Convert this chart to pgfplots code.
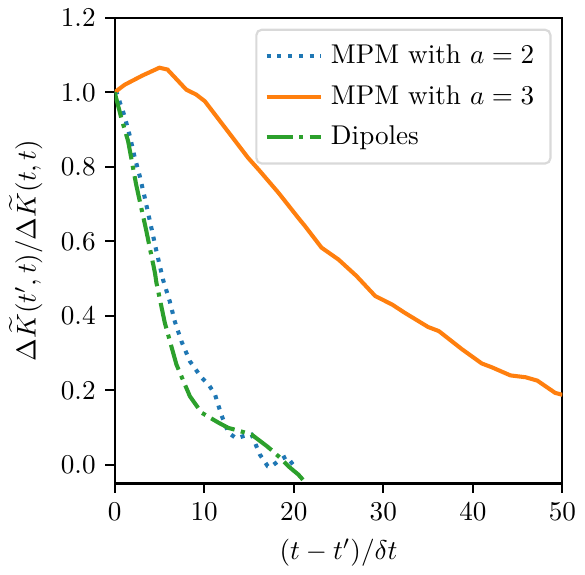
\documentclass[border=0pt]{standalone}
\usepackage{pgfplots}
\pgfplotsset{compat=1.18}
\definecolor{tabblue}{HTML}{1F77B4}
\definecolor{taborange}{HTML}{FF7F0E}
\definecolor{tabgreen}{HTML}{2CA02C}
\begin{document}
\begin{tikzpicture}
\begin{axis}[
    width=165pt, height=171.6pt, scale only axis,
    xmin=0, xmax=50, ymin=-0.05, ymax=1.2,
    xtick={0,10,20,30,40,50}, ytick={0,0.2,0.4,0.6,0.8,1.0,1.2},
    yticklabel style={/pgf/number format/.cd, fixed, fixed zerofill, precision=1},
    tick align=outside, xtick pos=bottom, ytick pos=left,
    major tick length=3.5pt, every tick/.style={black, line width=0.8pt},
    axis line style={line width=0.8pt},
    xlabel={$(t-t')/\delta t$},
    ylabel={$\Delta\widetilde{K}(t',t)/\Delta\widetilde{K}(t,t)$},
    legend cell align=left,
    legend image code/.code={\draw[#1] plot coordinates {(0pt,0pt) (20pt,0pt)};},
    legend style={draw=black!15, rounded corners=2pt, line width=0.8pt,
        fill=white, fill opacity=0.8, text opacity=1,
        at={(rel axis cs:1,1)}, anchor=north east, xshift=-4pt, yshift=-4pt,
        row sep=2.5pt, inner xsep=3pt, inner ysep=3.5pt,
        nodes={inner xsep=3pt}},
]
\addplot[tabblue, line width=1.5pt, dash pattern=on 1.5pt off 2.475pt] coordinates {
(0,1.0) (0.2,1.0) (1.1,0.936) (1.7,0.882) (2.2,0.829) (2.8,0.775) (3.36,0.717)
(4.1,0.636) (4.66,0.574) (5.4,0.497) (6.15,0.439) (6.7,0.386) (7.45,0.332)
(8.4,0.278) (9.7,0.234) (10.5,0.215) (11.2,0.189) (11.9,0.135) (12.7,0.086)
(13.6,0.071) (14.5,0.078) (15.3,0.081) (16.2,0.028) (17.1,-0.004) (17.4,-0.006)
(18.5,0.014) (19.2,0.023) (19.9,0.001)};
\addlegendentry{MPM with $a=2$}
\addplot[taborange, line width=1.5pt] coordinates {
(0,1.0) (1.1,1.02) (3.1,1.045) (5.0,1.066) (5.9,1.061) (8.0,1.007) (9.1,0.994)
(10.07,0.976) (12.9,0.887) (14.9,0.824) (16.2,0.789) (18.3,0.730) (20.5,0.663)
(21.25,0.641) (23.1,0.583) (25.0,0.551) (27.0,0.507) (29.1,0.453) (31.0,0.430)
(32.4,0.408) (35.0,0.370) (36.2,0.359) (38.8,0.310) (41.0,0.272) (42.1,0.262)
(44.2,0.240) (45.9,0.235) (47.2,0.226) (49.2,0.193) (50,0.188)};
\addlegendentry{MPM with $a=3$}
\addplot[tabgreen, line width=1.5pt, dash pattern=on 9.6pt off 2.4pt on 1.5pt off 2.4pt] coordinates {
(0,1.0) (0.75,0.93) (1.5,0.869) (2.4,0.752) (3.5,0.632) (4.5,0.515) (4.66,0.489)
(5.6,0.381) (6.9,0.269) (8.4,0.184) (9.7,0.140) (11.6,0.113) (12.7,0.099)
(13.8,0.092) (15.3,0.081) (17.0,0.050) (17.9,0.032) (19.6,-0.008) (20.5,-0.026)
(21.25,-0.046) (21.4,-0.05)};
\addlegendentry{Dipoles}
\end{axis}
\end{tikzpicture}
\end{document}
